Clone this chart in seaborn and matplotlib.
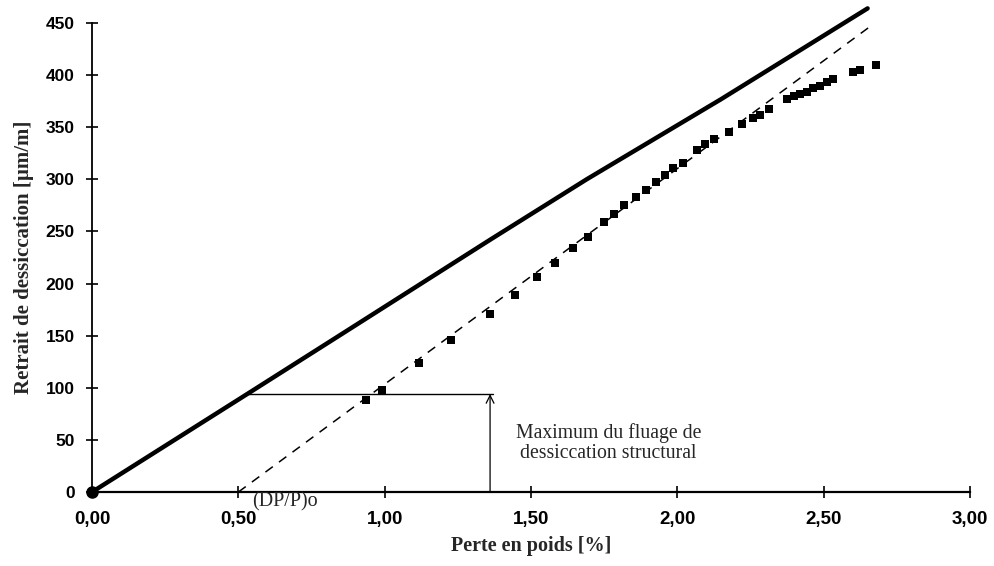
import matplotlib
matplotlib.use("Agg")
import matplotlib.pyplot as plt
import seaborn as sns
import pandas as pd

# ---- data ----
model_x = [0.00, 0.53, 0.85, 1.36, 1.69, 2.15, 2.65]
model_y = [0, 94, 151, 242, 300, 377, 464]

fit_x = [0.50, 2.67]
fit_y = [0, 449]

meas_x = [0.936, 0.99, 1.118, 1.227, 1.36, 1.446, 1.52, 1.582, 1.642, 1.693,
          1.748, 1.784, 1.818, 1.859, 1.893, 1.927, 1.958, 1.984, 2.02, 2.068,
          2.095, 2.126, 2.178, 2.22, 2.258, 2.283, 2.312, 2.374, 2.397, 2.42,
          2.443, 2.465, 2.488, 2.51, 2.531, 2.60, 2.625, 2.68]
meas_y = [88, 98, 124, 146, 171, 189, 206, 220, 234, 245,
          259, 267, 275, 283, 290, 297, 304, 311, 316, 328,
          334, 339, 345, 353, 359, 362, 367, 377, 380, 382,
          384, 388, 390, 393, 396, 403, 405, 410]

creep_x0 = 0.533
creep_x1 = 1.37
creep_level = 94
arrow_x = 1.36

x_ticks = [0.0, 0.5, 1.0, 1.5, 2.0, 2.5, 3.0]
x_ticklabels = ["0,00", "0,50", "1,00", "1,50", "2,00", "2,50", "3,00"]
y_ticks = [0, 50, 100, 150, 200, 250, 300, 350, 400, 450]

x_label = "Perte en poids [%]"
y_label = "Retrait de dessiccation [µm/m]"
annot_text = "Maximum du fluage de\ndessiccation structural"
dp_text = "(DP/P)o"

# ---- plot ----
sns.set_style("ticks")
plt.rcParams['font.family'] = ['Liberation Sans', 'DejaVu Sans']
serif = ["Liberation Serif", "DejaVu Serif"]

fig = plt.figure(figsize=(9.94, 5.66), dpi=100)
ax = fig.add_axes([0.0926, 0.1307, 0.8833, 0.8287])

df_model = pd.DataFrame({"x": model_x, "y": model_y})
df_fit = pd.DataFrame({"x": fit_x, "y": fit_y})
df_meas = pd.DataFrame({"x": meas_x, "y": meas_y})

sns.lineplot(data=df_model, x="x", y="y", ax=ax, color="black", lw=3.2,
             sort=False, clip_on=False, zorder=3)
sns.lineplot(data=df_fit, x="x", y="y", ax=ax, color="black", lw=1.1,
             sort=False, clip_on=False, zorder=2)
ax.lines[-1].set_dashes([6, 5])
sns.scatterplot(data=df_meas, x="x", y="y", ax=ax, marker="s", s=40,
                color="black", edgecolor="black", linewidth=0, zorder=4,
                clip_on=False)
ax.plot([0], [0], marker="o", ms=8, color="black", clip_on=False, zorder=5)

# annotation lines
ax.plot([creep_x0, creep_x1], [creep_level, creep_level], color="black", lw=1.0)
ax.annotate("", xy=(arrow_x, creep_level), xytext=(arrow_x, 0),
            arrowprops=dict(arrowstyle="->", color="black", lw=0.9,
                            shrinkA=0, shrinkB=0, mutation_scale=14))
ax.text(1.765, 47, annot_text, ha="center", va="center",
        family=serif, fontsize=14.2, linespacing=1.05)

ax.set_xlim(0, 3.0)
ax.set_ylim(0, 450)
ax.set_xticks(x_ticks)
ax.set_xticklabels(x_ticklabels)
ax.set_yticks(y_ticks)
ax.tick_params(direction="inout", length=9, width=1.2, pad=8, colors="black")
ax.tick_params(axis="x", labelsize=13.5, pad=9)
ax.tick_params(axis="y", labelsize=12.5)
for lab in ax.get_xticklabels() + ax.get_yticklabels():
    lab.set_fontweight("bold")

for s in ["top", "right"]:
    ax.spines[s].set_visible(False)
ax.spines["left"].set_linewidth(1.3)
ax.spines["bottom"].set_linewidth(1.6)
ax.spines["left"].set_color("black")
ax.spines["bottom"].set_color("black")

ax.set_xlabel(x_label, family=serif, fontweight="bold", fontsize=14.5, labelpad=6)
ax.set_ylabel(y_label, family=serif, fontweight="bold", fontsize=15, labelpad=8)

ax.text(0.548, -0.022, dp_text, transform=ax.get_xaxis_transform(),
        ha="left", va="center", family=serif, fontsize=14.5, clip_on=False)

ax.grid(False)
fig.savefig("out.png", dpi=100)
